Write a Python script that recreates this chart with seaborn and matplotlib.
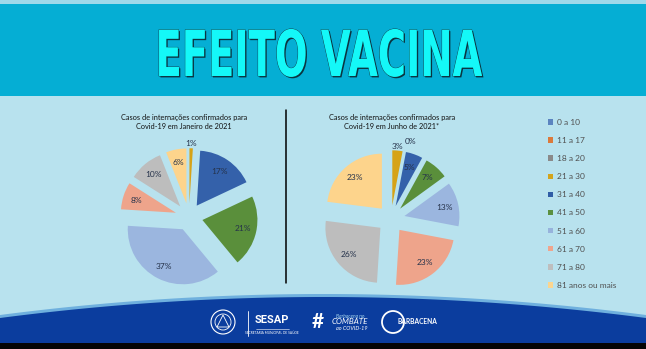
import numpy as np
import matplotlib
matplotlib.use("Agg")
import matplotlib.pyplot as plt
import matplotlib.patheffects as pe
from matplotlib.transforms import Affine2D
from matplotlib.patches import Patch, Rectangle, Circle, Polygon
import seaborn as sns

# ---------------- data ----------------
categories = ["0 a 10", "11 a 17", "18 a 20", "21 a 30", "31 a 40",
              "41 a 50", "51 a 60", "61 a 70", "71 a 80", "81 anos ou mais"]
jan_values = [0, 0, 0, 1, 17, 21, 37, 8, 10, 6]
jun_values = [0, 0, 0, 3, 5, 7, 13, 23, 26, 23]
chart_titles = ["Casos de internações confirmados para\nCovid-19 em Janeiro de 2021",
                "Casos de internações confirmados para\nCovid-19 em Junho de 2021*"]
zero_label_shown = [None, "18 a 20"]   # category whose 0% label is printed
main_title = "EFEITO VACINA"

slice_colors = ["#4E79BD", "#E07B39", "#8E8E8E", "#D6A317", "#3461AA",
                "#5A8F3B", "#9BB6DF", "#EEA48B", "#BDBDBD", "#FDD48C"]
legend_colors = ["#5B84C0", "#DB7A3C", "#8A8A8A", "#D3A41C", "#2F5DA6",
                 "#5B9040", "#97B3DC", "#EFA58D", "#BEBEBE", "#FBD58F"]

sns.set_theme(style="white")
plt.rcParams['font.family'] = ['Lato', 'DejaVu Sans']

W, H = 646, 349
fig = plt.figure(figsize=(W / 100, H / 100), dpi=100)

# ---------------- background ----------------
bg = fig.add_axes([0, 0, 1, 1], zorder=0)
bg.set_xlim(0, W)
bg.set_ylim(H, 0)
bg.axis('off')
bg.add_patch(Rectangle((0, 0), W, H, color='#B8E2EE', lw=0))
bg.add_patch(Rectangle((0, 0), W, 3.5, color='#9FD9EA', lw=0))
bg.add_patch(Rectangle((0, 3.5), W, 92, color='#05AED4', lw=0))
xs = np.linspace(0, W, 300)
wave = 297 + 21 * ((xs - W / 2) / (W / 2)) ** 2
bg.fill_between(xs, wave - 3, H, color='#6FB0DE', lw=0)
bg.fill_between(xs, wave, H, color='#0B3D9E', lw=0)
bg.add_patch(Rectangle((0, 343), W, 6, color='#050505', lw=0))
bg.plot([286, 286], [110, 283], color='black', lw=1.1)

# ---------------- stretched title ----------------
class Stretch(pe.AbstractPathEffect):
    def __init__(self, target_w, target_h, effects):
        super().__init__()
        self.tw, self.th, self.effects = target_w, target_h, effects

    def draw_path(self, renderer, gc, tpath, affine, rgbFace=None):
        disp = tpath.transformed(affine).get_extents()
        ext = tpath.get_extents()
        scale = renderer.points_to_pixels(72) / 100.0
        sx = self.tw * scale / disp.width
        sy = self.th * scale / disp.height
        cx = (ext.x0 + ext.x1) / 2
        pre = Affine2D().translate(-cx, 0).scale(sx, sy).translate(cx, 0)
        for e in self.effects:
            e.draw_path(renderer, gc, tpath, pre + affine, rgbFace)

fig.text(319 / W, 1 - 76 / H, main_title, ha='center', va='baseline',
         fontsize=30, fontweight='bold', family='DejaVu Sans', color='#14F8F8',
         path_effects=[Stretch(323, 48, [
             pe.SimplePatchShadow(offset=(1.0, -1.0), shadow_rgbFace='#0A3440', alpha=1.0),
             pe.Stroke(linewidth=0.6, foreground='#0E3C48'),
             pe.Normal()])])

# ---------------- pies ----------------
R_PX = 55.0
HALF = 80.0

def draw_pie(cx_px, cy_px, values, title, title_xy, zero_cat):
    ax = fig.add_axes([(cx_px - HALF) / W, (H - cy_px - HALF) / H,
                       2 * HALF / W, 2 * HALF / H], zorder=2)
    wedges, _ = ax.pie(values, colors=slice_colors, startangle=90,
                       counterclock=False, explode=[0.25] * len(values),
                       radius=1.0, wedgeprops=dict(linewidth=0))
    total = float(sum(values))
    for cat, w, v in zip(categories, wedges, values):
        mid = np.deg2rad((w.theta1 + w.theta2) / 2)
        x0, y0 = w.center
        frac = v / total
        if frac >= 0.05:
            d = 0.75
        elif v > 0:
            d = 1.08
        elif cat == zero_cat:
            d = 1.22
            mid = mid - np.deg2rad(17)
        else:
            continue
        ax.text(x0 + d * np.cos(mid), y0 + d * np.sin(mid),
                f"{round(100 * frac)}%", ha='center', va='center',
                fontsize=6, color='#25324A')
    lim = HALF / R_PX
    ax.set_xlim(-lim, lim)
    ax.set_ylim(-lim, lim)
    ax.set_aspect('auto')
    ax.axis('off')
    fig.text(title_xy[0] / W, 1 - title_xy[1] / H, title, ha='center',
             va='center', fontsize=5.3, color='#111111', linespacing=1.35)

draw_pie(189, 217, jan_values, chart_titles[0], (184, 122), zero_label_shown[0])
draw_pie(391, 219, jun_values, chart_titles[1], (392, 122), zero_label_shown[1])

# ---------------- legend ----------------
handles = [Patch(facecolor=c, edgecolor='none') for c in legend_colors]
fig.legend(handles, categories, loc='upper left',
           bbox_to_anchor=(548 / W, 1 - 119 / H), frameon=False, fontsize=6,
           labelspacing=1.33, handlelength=0.65, handleheight=0.65,
           handletextpad=0.45, borderaxespad=0, borderpad=0,
           labelcolor='#505050')

# ---------------- footer logos ----------------
bg.add_patch(Circle((223, 322), 12, fill=False, ec='white', lw=0.8))
bg.add_patch(Circle((223, 322), 8, fill=False, ec='white', lw=0.6))
bg.add_patch(Polygon([[223, 315], [217, 327], [229, 327]], closed=True,
                     fill=False, ec='white', lw=0.6))
bg.plot([248, 248], [311, 336], color='white', lw=0.6)
bg.text(272, 320, "SESAP", ha='center', va='center', fontsize=8,
        fontweight='bold', color='white', family='Roboto')
bg.plot([256, 289], [328.5, 328.5], color='white', lw=0.4)
bg.text(272, 333, "SECRETARIA MUNICIPAL DE SAÚDE", ha='center', va='center',
        fontsize=2.3, color='white')
bg.text(318, 322, "#", ha='center', va='center', fontsize=15,
        fontweight='bold', color='white')
bg.text(350, 316, "Barbacena no", ha='center', va='center', fontsize=3.6,
        color='#A8D8F0', style='italic')
bg.text(350, 322, "COMBATE", ha='center', va='center', fontsize=5.8,
        color='white', style='italic')
bg.text(352, 328, "ao COVID-19", ha='center', va='center', fontsize=4,
        color='white', style='italic')
bg.add_patch(Circle((393, 322), 11, fill=False, ec='white', lw=1.3))
bg.text(417, 321, "BARBACENA", ha='center', va='center', fontsize=4.8,
        fontweight='bold', color='white')

fig.savefig("out.png", dpi=100)
